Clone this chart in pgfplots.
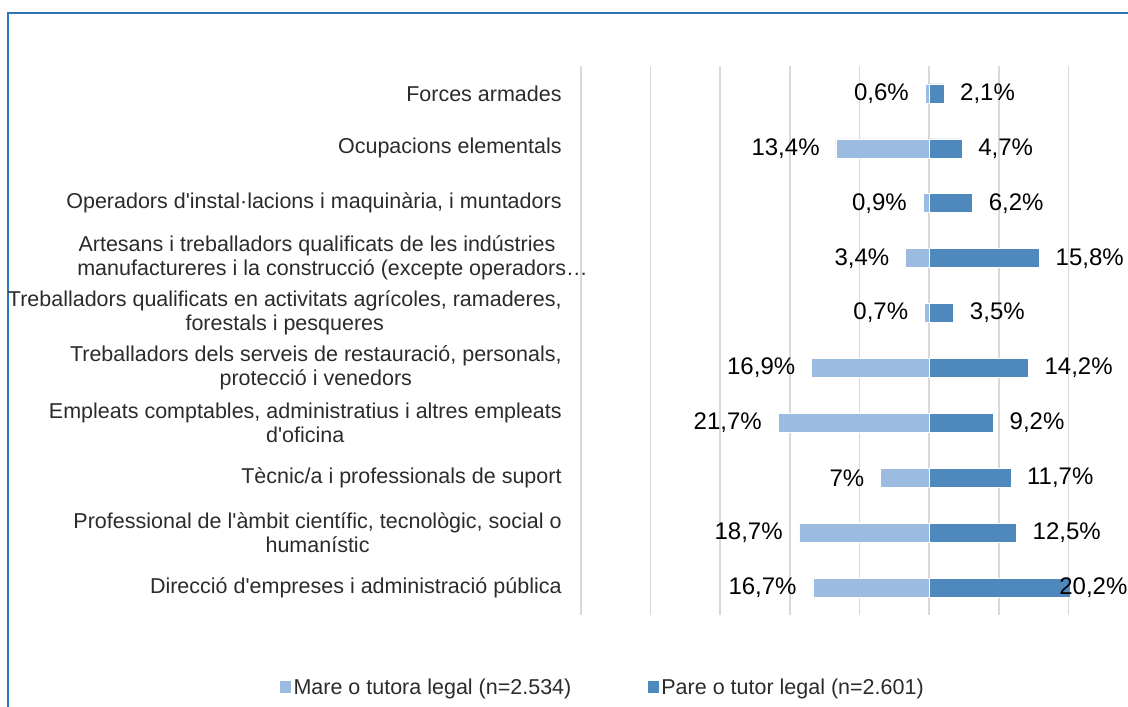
\documentclass[border=0pt]{standalone}
\usepackage{fontspec}
\setmainfont{Liberation Sans}
\usepackage{pgfplots}
\pgfplotsset{compat=1.18}
\usepackage{pgfplotstable}
\definecolor{mare}{HTML}{9BBBE1}
\definecolor{pare}{HTML}{4F88BD}
\definecolor{gridc}{HTML}{D9D9D9}
\definecolor{framec}{HTML}{2E75B6}
\definecolor{labc}{HTML}{2B2B2B}

\pgfplotstableread{
y mare pare lm lp
0 -16.7 20.2 16,7 \hspace*{-27pt}20,2
1 -18.7 12.5 18,7 12,5
2 -7.0 11.7 7 11,7
3 -21.7 9.2 21,7 9,2
4 -16.9 14.2 16,9 14,2
5 -0.7 3.5 0,7 3,5
6 -3.4 15.8 3,4 15,8
7 -0.9 6.2 0,9 6,2
8 -13.4 4.7 13,4 4,7
9 -0.6 2.1 0,6 2,1
}\data

\begin{document}
\begin{tikzpicture}
\path[use as bounding box] (0pt,0pt) rectangle (1128pt,-707pt);
\draw[framec, line width=1.5pt] (8pt,-707pt) -- (8pt,-13pt) -- (1128pt,-13pt);
\begin{axis}[
  at={(580.8pt,-615pt)}, anchor=south west,
  scale only axis, width=487.9pt, height=549pt,
  xmin=-50, xmax=20, ymin=-0.5, ymax=9.5,
  clip=false,
  xtick={-50,-40,...,20}, xticklabels={},
  xmajorgrids, major grid style={gridc, line width=1.6pt},
  ytick={0,...,9},
  yticklabels={
    Direcció d\textquotesingle empreses i administració pública,
    {Professional de l\textquotesingle àmbit científic, tecnològic, social o\\humanístic},
    Tècnic/a i professionals de suport,
    {Empleats comptables, administratius i altres empleats\\d\textquotesingle oficina},
    {Treballadors dels serveis de restauració, personals,\\protecció i venedors},
    {Treballadors qualificats en activitats agrícoles, ramaderes,\\forestals i pesqueres},
    {Artesans i treballadors qualificats de les indústries\hspace*{5pt}\\manufactureres i la construcció (excepte operadors…\hspace*{-26pt}},
    {Operadors d\textquotesingle instal·lacions i maquinària, i muntadors},
    Ocupacions elementals,
    Forces armades},
  yticklabel style={align=center, anchor=east, inner sep=0pt, xshift=-19pt,
    font=\fontsize{21.5}{24}\selectfont, text=labc},
  major tick length=0pt,
  axis line style={draw=none},
  xbar, bar width=19pt, bar shift=0pt,
  point meta=explicit symbolic,
  nodes near coords={\pgfplotspointmeta\%},
  every node near coord/.append style={font=\fontsize{24}{28}\selectfont, text=black, inner sep=0pt},
  legend style={at={(-0.6175,-0.1311)}, anchor=west, draw=none, fill=none,
    inner sep=0pt, font=\fontsize{21.5}{24}\selectfont, text=labc,
    nodes={inner xsep=2.2pt, inner ysep=0pt},
    /tikz/every even column/.append style={column sep=74pt}},
  legend columns=2, legend cell align=left,
  legend image code/.code={\fill[#1, draw=none] (0pt,-5.8pt) rectangle (11.6pt,5.8pt);},
]
\addplot[fill=mare, draw=white, line width=0.6pt,
  every node near coord/.append style={anchor=east, xshift=-16pt}]
  table[x=mare, y=y, meta=lm]{\data};
\addplot[fill=pare, draw=white, line width=0.6pt,
  every node near coord/.append style={anchor=west, xshift=16pt}]
  table[x=pare, y=y, meta=lp]{\data};
\legend{Mare o tutora legal (n=2.534), Pare o tutor legal (n=2.601)}
\end{axis}
\end{tikzpicture}
\end{document}
